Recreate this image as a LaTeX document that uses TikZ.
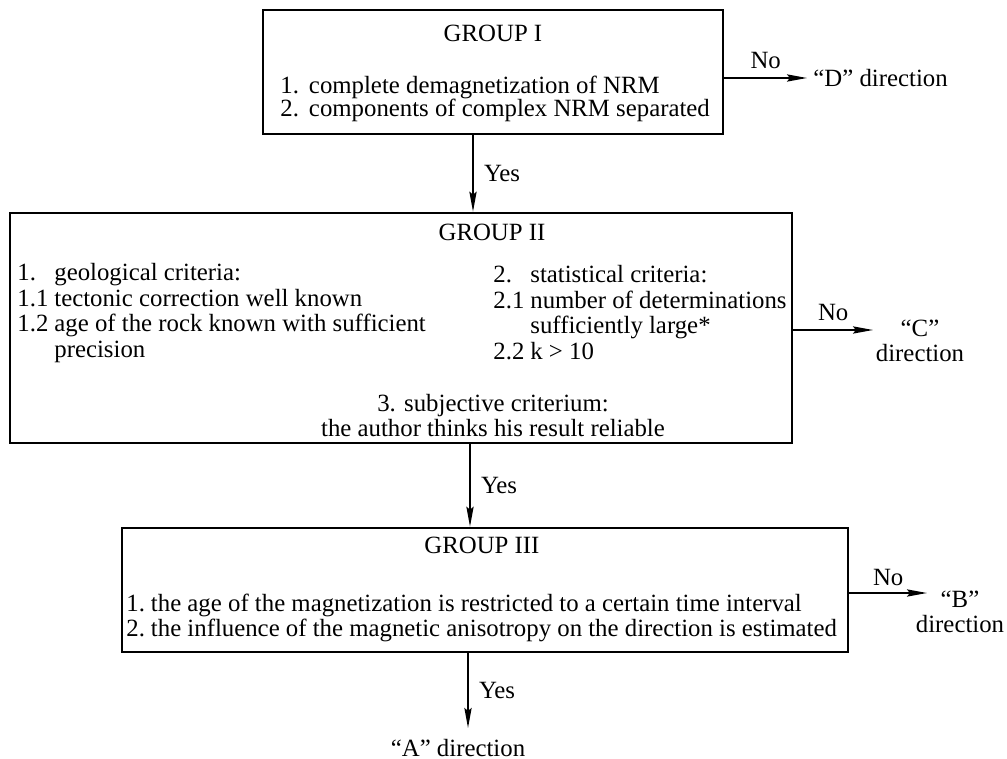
\documentclass[tikz,border=0pt]{standalone}
\usepackage{fontspec}
\setmainfont{Liberation Serif}
\usetikzlibrary{arrows.meta,positioning}
\newcommand{\flowfont}{\fontsize{12.4}{12.75}\selectfont}

\begin{document}
\begin{tikzpicture}[x=0.5pt,y=-0.5pt,
  groupbox/.style={draw, line width=1.3pt, inner sep=0pt},
  txt/.style={font=\flowfont, inner sep=0pt},
  flow/.style={-{Stealth[length=10pt,width=3.6pt,inset=1.5pt]}, line width=1pt}]
  \useasboundingbox (0,0) rectangle (1007,759);
  % the three groups of criteria
  \node[groupbox, minimum width=230pt, minimum height=62pt] (g1) at (493,72) {};
  \node[groupbox, minimum width=391pt, minimum height=115pt] (g2) at (401,328) {};
  \node[groupbox, minimum width=363pt, minimum height=62pt] (g3) at (485,590) {};
  \node[txt] (t1) at (493,33) {GROUP I};
  \node[txt] (t2) at (492,232) {GROUP II};
  \node[txt] (t3) at (482,545) {GROUP III};
  % criteria lists
  \node[txt, anchor=base west] (c1) at (280,94) {\begin{tabular}[t]{@{}l@{\hspace{5pt}}l@{}}
    1. & complete demagnetization of NRM\\[-1.5pt]
    2. & components of complex NRM separated\end{tabular}};
  \node[txt, anchor=base west] (c2a) at (17,281) {\begin{tabular}[t]{@{}l@{\hspace{3pt}}l@{}}
    1. & geological criteria:\\
    1.1 & tectonic correction well known\\
    1.2 & age of the rock known with sufficient\\
        & precision\end{tabular}};
  \node[txt, anchor=base west] (c2b) at (493,283) {\begin{tabular}[t]{@{}l@{\hspace{3pt}}l@{}}
    2. & statistical criteria:\\
    2.1 & number of determinations\\
        & sufficiently large*\\
    2.2 & k > 10\end{tabular}};
  \node[txt, anchor=base] (c2c) at (493,411) {\begin{tabular}[t]{@{}c@{}}
    3. subjective criterium:\\
    the author thinks his result reliable\end{tabular}};
  \node[txt, anchor=base west] (c3) at (126,611) {\begin{tabular}[t]{@{}l@{\hspace{3pt}}l@{}}
    1. & the age of the magnetization is restricted to a certain time interval\\
    2. & the influence of the magnetic anisotropy on the direction is estimated\end{tabular}};
  % outcomes
  \node[txt, anchor=west, inner sep=3pt] (dD) at (807,78) {``D'' direction};
  \node[txt, align=center] (dC) at (920,341) {``C''\\direction};
  \node[txt, align=center] (dB) at (960,612) {``B''\\direction};
  \node[txt] (dA) at (458,748) {``A'' direction};
  % Yes arrows
  \coordinate (y1) at (473,0);
  \coordinate (y2) at (470,0);
  \coordinate (y3) at (468,728);
  \draw[flow] (y1 |- g1.south) -- (y1 |- g2.north) node[txt, midway, right=5pt] (yes1) {Yes};
  \draw[flow] (y2 |- g2.south) -- (y2 |- g3.north) node[txt, midway, right=5pt] (yes2) {Yes};
  \draw[flow] (y3 |- g3.south) -- (y3) node[txt, midway, right=5pt] (yes3) {Yes};
  % No arrows
  \coordinate (n2) at (873,330);
  \coordinate (n3) at (927,593);
  \draw[flow] (g1.east |- dD.west) -- (dD.west) node[txt, midway, above=4pt] (no1) {No};
  \draw[flow] (g2.east |- n2) -- (n2) node[txt, midway, above=4pt] (no2) {No};
  \draw[flow] (g3.east |- n3) -- (n3) node[txt, midway, above=3pt] (no3) {No};
\end{tikzpicture}
\end{document}
